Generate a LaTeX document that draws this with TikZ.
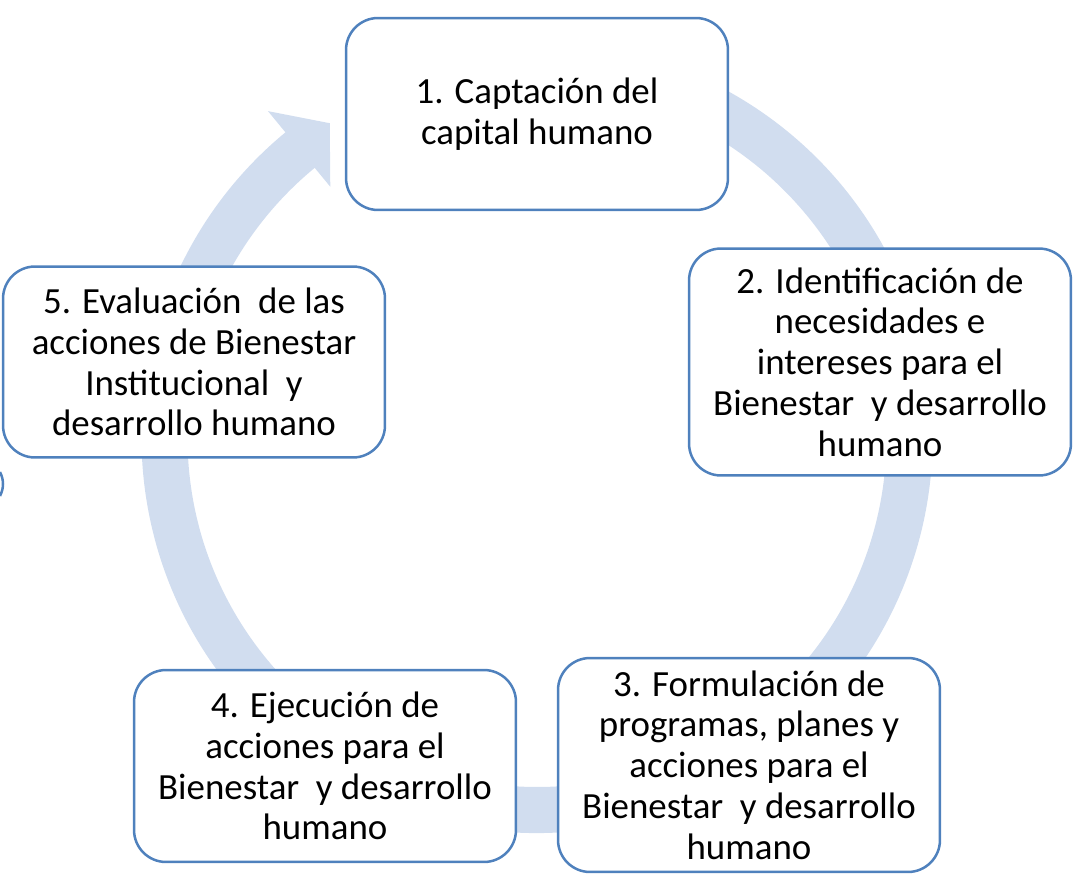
\documentclass[tikz,border=0pt]{standalone}
\usepackage{fontspec}
\setmainfont{Carlito}
\usetikzlibrary{calc}
\definecolor{CycleBlue}{RGB}{79,129,189}
\definecolor{RingBlue}{RGB}{209,221,239}

\begin{document}
\begin{tikzpicture}[x=0.02cm, y=0.02cm,
    paso/.style={draw=CycleBlue, line width=0.05cm, fill=white, rounded corners=0.64cm,
        minimum width=7.64cm, align=center, inner sep=0pt,
        font=\fontsize{21}{23.2}\selectfont}]
    \useasboundingbox (0,0) rectangle (1078,-882);

    % Centre of the cycle
    \coordinate (C) at (537,-437.5);

    % Ring arrow behind the steps (clockwise, head into step 1)
    \fill[RingBlue] ($(C)+(100:395.5)$) arc[start angle=100, end angle=-230.5, radius=395.5]
        -- ($(C)+(-230.5:423)$) -- ($(C)+(-236.6:376.5)$) -- ($(C)+(-230.5:325)$)
        -- ($(C)+(-230.5:349.5)$) arc[start angle=-230.5, end angle=100, radius=349.5]
        -- cycle;

    % Steps
    \node[paso, minimum height=3.84cm] (capt) at (537,-114) {1. Captación del\\capital humano};
    \node[paso, minimum height=4.54cm] (ident) at (880,-362)
        {2. Identificación de\\necesidades e\\intereses para el\\Bienestar\ \ y desarrollo\\humano};
    \node[paso, minimum height=4.28cm] (formu) at (749,-765)
        {3. Formulación de\\programas, planes y\\acciones para el\\Bienestar\ \ y desarrollo\\humano};
    \node[paso, minimum height=3.84cm] (ejec) at (325,-766)
        {4. Ejecución de\\acciones para el\\Bienestar\ \ y desarrollo\\humano};
    \node[paso, minimum height=3.82cm] (eval) at (194,-362)
        {5. Evaluación\ \ de las\\acciones de Bienestar\\Institucional\ \ y\\desarrollo humano};

    % Small sliver at the left edge
    \draw[CycleBlue, line width=0.05cm] (0,-472) .. controls (4,-480) and (4,-488) .. (0,-496);
\end{tikzpicture}
\end{document}
